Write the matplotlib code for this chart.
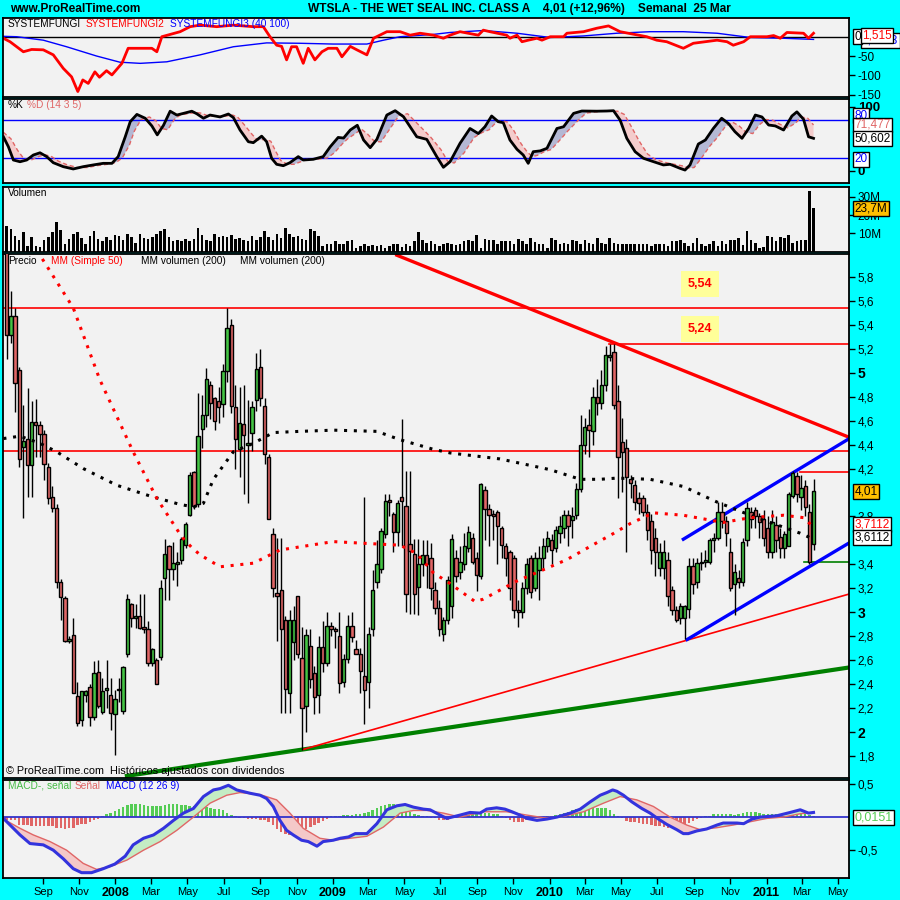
import numpy as np
import pandas as pd
import matplotlib
matplotlib.use('Agg')
import matplotlib.pyplot as plt
import matplotlib.transforms as mtransforms
from matplotlib import font_manager
from matplotlib.ticker import FuncFormatter

plt.rcParams['font.family'] = ['Liberation Sans', 'DejaVu Sans']

# ---------------- data (weekly bars, first bar week of 2007-07-02) ----------------
start = pd.Timestamp('2007-07-02')

opens = [6.30, 5.31, 5.47, 5.02, 4.38, 4.45, 4.23, 4.59, 4.56, 4.49,
         4.21, 3.96, 3.87, 3.25, 3.12, 2.76, 2.81, 2.30, 2.10, 2.31,
         2.38, 2.13, 2.50, 2.17, 2.35, 2.31, 2.15, 2.35, 2.18, 2.65,
         3.07, 2.95, 2.97, 2.88, 2.86, 2.58, 2.60, 2.63, 3.29, 3.55,
         3.36, 3.40, 3.44, 3.56, 3.81, 4.17, 3.90, 4.53, 4.65, 4.90,
         4.79, 4.76, 4.74, 5.01, 5.40, 4.71, 4.36, 4.57, 4.40, 4.50,
         4.77, 5.05, 4.72, 4.30, 3.65, 3.16, 3.19, 2.94, 2.33, 2.75,
         3.14, 2.62, 2.22, 2.72, 2.49, 2.31, 2.71, 2.58, 2.89, 2.86,
         2.80, 2.42, 2.61, 2.89, 2.69, 2.65, 2.47, 2.42, 2.86, 3.25,
         3.36, 3.65, 3.94, 3.82, 3.67, 3.96, 3.89, 3.57, 3.49, 3.21,
         3.40, 3.48, 3.45, 3.19, 3.04, 2.82, 2.94,
         3.05, 3.45, 3.34, 3.40, 3.54, 3.62, 3.45, 3.30, 4.02, 3.86,
         3.82, 3.84, 3.70, 3.55, 3.50, 3.45, 3.02, 3.00, 3.20, 3.45,
         3.20, 3.35, 3.45, 3.55, 3.60, 3.54, 3.66, 3.70, 3.81, 3.77,
         3.81, 4.03, 4.40, 4.56, 4.51, 4.80, 4.75, 4.90, 5.13, 5.17,
         4.76, 4.42, 4.37, 4.11, 4.06, 3.95, 3.95, 3.84, 3.76, 3.62,
         3.37, 3.37, 3.44, 3.19, 3.02, 2.95, 2.95, 3.03, 3.39, 3.25,
         3.41, 3.42, 3.42, 3.60, 3.62, 3.84, 3.76, 3.50, 3.24, 3.29,
         3.25, 3.60, 3.84, 3.85, 3.80, 3.78, 3.70, 3.50, 3.73, 3.63,
         3.54, 3.55, 3.97, 4.14, 3.96, 4.05, 3.84, 3.57]
highs = [6.50, 5.68, 5.54, 5.05, 4.73, 4.87, 4.76, 4.78, 4.60, 4.52,
         4.25, 4.05, 3.90, 3.28, 3.14, 2.80, 2.95, 2.42, 2.34, 2.35,
         2.40, 2.59, 2.60, 2.45, 2.60, 2.45, 2.35, 2.45, 2.55, 3.15,
         3.08, 3.07, 3.15, 3.15, 2.93, 2.70, 2.62, 3.27, 3.61, 3.56,
         3.59, 3.50, 3.63, 3.75, 4.17, 4.18, 4.83, 4.81, 5.04, 4.93,
         4.80, 4.88, 5.07, 5.54, 5.45, 4.90, 4.88, 4.90, 4.77, 4.76,
         5.16, 5.20, 4.79, 4.32, 3.70, 3.62, 3.62, 2.97, 3.02, 3.05,
         3.14, 2.88, 2.86, 2.86, 2.55, 2.80, 2.93, 3.00, 2.92, 2.88,
         3.00, 2.65, 2.98, 3.00, 2.77, 2.70, 3.96, 2.88, 3.35, 3.60,
         3.70, 3.99, 3.99, 3.84, 3.94, 4.61, 4.18, 4.18, 3.61, 3.61,
         3.60, 3.60, 3.58, 3.25, 3.10, 2.96, 3.30,
         3.65, 3.52, 3.55, 3.66, 3.72, 3.66, 3.50, 4.08, 4.05, 3.90,
         3.85, 3.85, 3.72, 3.58, 3.52, 3.48, 3.10, 3.25, 3.45, 3.48,
         3.50, 3.55, 3.62, 3.68, 3.65, 3.72, 3.80, 3.85, 3.85, 3.88,
         4.08, 4.65, 4.62, 4.70, 4.88, 4.95, 5.02, 5.22, 5.24, 5.24,
         4.90, 4.62, 4.45, 4.15, 4.10, 4.00, 3.98, 3.90, 3.82, 3.70,
         3.58, 3.60, 3.50, 3.22, 3.05, 3.08, 3.06, 3.45, 3.45, 3.45,
         3.50, 3.52, 3.62, 3.66, 3.92, 3.92, 3.80, 3.62, 3.40, 3.35,
         3.62, 3.92, 3.88, 3.88, 3.83, 3.85, 3.80, 3.85, 3.80, 3.70,
         3.68, 4.00, 4.18, 4.17, 4.15, 4.10, 3.90, 4.11]
lows = [5.11, 5.25, 4.67, 4.21, 3.79, 3.96, 3.96, 4.30, 4.30, 4.10,
        3.90, 3.84, 3.20, 2.94, 2.75, 2.74, 2.33, 2.05, 2.05, 2.25,
        2.05, 2.10, 2.20, 2.15, 2.20, 2.02, 1.81, 2.25, 2.15, 2.63,
        2.88, 2.87, 2.86, 2.83, 2.55, 2.55, 2.40, 2.60, 3.10, 3.10,
        3.27, 3.22, 3.40, 3.54, 3.80, 3.86, 3.88, 4.37, 4.55, 4.61,
        4.52, 4.58, 4.63, 4.92, 4.66, 4.20, 4.13, 3.99, 3.91, 4.35,
        4.68, 4.72, 4.24, 3.78, 3.13, 2.76, 2.16, 2.16, 2.16, 2.60,
        2.62, 1.85, 2.00, 2.37, 2.15, 2.16, 2.50, 2.55, 2.80, 2.70,
        2.33, 2.38, 2.58, 2.75, 2.65, 2.33, 2.07, 2.20, 2.80, 3.20,
        3.33, 3.62, 3.80, 3.50, 3.55, 3.55, 3.00, 2.99, 2.99, 2.98,
        3.30, 3.20, 3.10, 2.99, 2.80, 2.76, 2.90,
        2.95, 3.25, 3.28, 3.35, 3.50, 3.40, 3.18, 3.28, 3.60, 3.55,
        3.60, 3.40, 3.45, 3.30, 3.10, 2.95, 2.88, 2.95, 3.15, 3.12,
        3.18, 3.10, 3.35, 3.50, 3.40, 3.50, 3.58, 3.62, 3.55, 3.62,
        3.78, 4.00, 4.32, 4.30, 4.40, 4.65, 4.70, 4.85, 5.10, 4.70,
        3.95, 4.00, 3.50, 3.95, 3.85, 3.82, 3.80, 3.60, 3.40, 3.30,
        3.30, 3.28, 3.05, 2.98, 2.92, 2.90, 2.78, 2.95, 3.15, 3.20,
        3.35, 3.38, 3.40, 3.50, 3.60, 3.70, 3.55, 3.18, 2.98, 3.20,
        3.22, 3.55, 3.70, 3.70, 3.62, 3.55, 3.45, 3.45, 3.50, 3.45,
        3.45, 3.55, 3.95, 3.92, 3.85, 3.80, 3.40, 3.52]
closes = [5.31, 5.47, 4.91, 4.28, 4.43, 4.23, 4.59, 4.56, 4.49, 4.24,
          3.95, 3.87, 3.25, 3.13, 2.76, 2.78, 2.33, 2.08, 2.34, 2.34,
          2.13, 2.49, 2.22, 2.34, 2.37, 2.16, 2.28, 2.36, 2.54, 3.11,
          2.95, 2.97, 2.87, 2.86, 2.58, 2.69, 2.40, 3.20, 3.49, 3.36,
          3.41, 3.42, 3.61, 3.74, 4.15, 3.89, 4.47, 4.65, 4.95, 4.75,
          4.60, 4.71, 5.01, 5.37, 4.72, 4.45, 4.58, 4.48, 4.41, 4.71,
          5.03, 4.79, 4.32, 3.78, 3.20, 3.14, 2.86, 2.36, 2.94, 2.94,
          2.65, 2.20, 2.81, 2.44, 2.29, 2.71, 2.58, 2.89, 2.86, 2.84,
          2.41, 2.61, 2.89, 2.79, 2.65, 2.51, 2.35, 2.82, 3.19, 3.40,
          3.68, 3.93, 3.92, 3.67, 3.91, 3.93, 3.15, 3.51, 3.15, 3.40,
          3.48, 3.40, 3.20, 3.04, 2.86, 2.94, 3.27,
          3.61, 3.30, 3.42, 3.55, 3.67, 3.42, 3.31, 4.07, 3.86, 3.81,
          3.80, 3.72, 3.56, 3.45, 3.20, 3.02, 3.00, 3.20, 3.40, 3.17,
          3.45, 3.45, 3.55, 3.62, 3.52, 3.69, 3.72, 3.81, 3.72, 3.80,
          4.03, 4.40, 4.55, 4.52, 4.80, 4.75, 4.90, 5.15, 5.15, 4.73,
          4.30, 4.34, 4.13, 4.08, 3.92, 3.91, 3.84, 3.69, 3.52, 3.50,
          3.50, 3.50, 3.14, 3.02, 2.94, 3.05, 3.05, 3.39, 3.24, 3.41,
          3.42, 3.44, 3.60, 3.62, 3.84, 3.76, 3.66, 3.20, 3.34, 3.25,
          3.59, 3.87, 3.78, 3.80, 3.75, 3.62, 3.50, 3.75, 3.60, 3.54,
          3.65, 3.99, 4.16, 3.99, 4.04, 3.88, 3.42, 4.01]

# volume in millions
volume = [14.3, 12.4, 8.7, 6.3, 10.6, 3.1, 8.1, 3.1, 2.6, 6.3,
          7.8, 10.9, 16.1, 11.9, 4.1, 6.9, 9.6, 10.9, 7.4, 4.1,
          8.7, 11.5, 6.9, 5.9, 7.8, 6.3, 9.1, 8.7, 6.3, 9.6,
          7.8, 5.0, 9.6, 7.4, 6.9, 7.8, 9.6, 11.5, 12.4, 7.8,
          5.9, 6.3, 5.9, 7.2, 5.9, 6.9, 13.0, 9.1, 6.3, 5.6,
          9.6, 7.8, 8.7, 8.3, 9.1, 7.2, 7.4, 6.3, 5.9, 8.7,
          6.3, 8.1, 11.5, 7.8, 6.3, 9.6, 7.4, 13.0, 9.6, 7.8,
          8.7, 6.9, 6.3, 12.4, 11.5, 8.7, 3.1, 4.1, 4.4, 5.6,
          4.1, 4.4, 5.9, 6.3, 2.2, 3.1, 4.1, 3.1, 3.5, 3.1,
          3.7, 2.2, 3.1, 4.4, 4.1, 2.8, 4.1, 3.1, 5.9, 10.9,
          6.3, 5.0, 5.6, 4.4, 3.1, 4.1, 5.0,
          4.4, 3.5, 4.4, 5.9, 6.3, 5.6, 9.1, 2.2, 7.2, 6.3,
          6.3, 4.4, 5.9, 5.9, 5.9, 4.4, 6.9, 5.6, 4.1, 7.4,
          5.4, 4.1, 4.1, 2.2, 7.4, 6.3, 4.4, 5.0, 4.1, 6.3,
          5.6, 4.4, 6.3, 5.0, 4.1, 7.4, 5.0, 4.4, 7.4, 5.0,
          4.1, 4.1, 4.4, 4.4, 4.1, 4.1, 4.4, 4.1, 3.1, 4.1,
          4.1, 4.1, 3.1, 5.9, 5.6, 6.3, 5.0, 3.1, 5.0, 7.4,
          4.1, 3.1, 4.1, 5.6, 3.1, 5.9, 4.1, 6.3, 6.3, 7.4,
          3.7, 11.5, 6.3, 5.0, 2.2, 2.6, 8.7, 7.8, 5.6, 7.8,
          7.4, 9.3, 5.0, 5.9, 6.3, 6.3, 33.3, 23.7]

# MACD histogram, one per week
macd_hist = [-0.05, -0.05, -0.05, -0.12, -0.12, -0.12, -0.13, -0.13, -0.13, -0.13,
             -0.13, -0.13, -0.17, -0.17, -0.18, -0.17, -0.17, -0.12, -0.11, -0.10,
             -0.07, -0.05, -0.03, 0.02, 0.04, 0.06, 0.09, 0.12, 0.15, 0.18,
             0.19, 0.19, 0.19, 0.18, 0.17, 0.16, 0.16, 0.17, 0.18, 0.19,
             0.20, 0.19, 0.18, 0.18, 0.17, 0.17, 0.17, 0.16, 0.15, 0.13,
             0.12, 0.12, 0.10, 0.06, 0.03, 0.02, -0.01, -0.02, -0.03, -0.03,
             -0.03, -0.04, -0.05, -0.07, -0.12, -0.18, -0.22, -0.25, -0.27, -0.25,
             -0.23, -0.20, -0.18, -0.15, -0.12, -0.09, -0.06, -0.03, 0.01, 0.02,
             0.02, 0.03, 0.03, 0.03, 0.04, 0.05, 0.06, 0.08, 0.10, 0.13,
             0.16, 0.18, 0.19, 0.19, 0.17, 0.14, 0.11, 0.08, 0.05, 0.03,
             0.02, 0.01, -0.01, -0.02, -0.04, -0.05, -0.04,
             -0.02, 0.00, 0.03, 0.04, 0.05, 0.04, 0.05, 0.06, 0.06, 0.06,
             0.05, 0.04, 0.02, -0.02, -0.05, -0.07, -0.08, -0.07, -0.05, -0.03,
             -0.02, -0.01, 0.00, 0.01, 0.02, 0.03, 0.04, 0.06, 0.08, 0.10,
             0.12, 0.13, 0.13, 0.13, 0.13, 0.13, 0.13, 0.13, 0.10, 0.05,
             0.02, -0.02, -0.06, -0.07, -0.08, -0.09, -0.10, -0.11, -0.12, -0.13,
             -0.14, -0.15, -0.16, -0.16, -0.17, -0.15, -0.12, -0.09, -0.06, -0.03,
             -0.01, 0.01, 0.02, 0.04, 0.04, 0.05, 0.04, 0.04, 0.03, 0.05,
             0.06, 0.07, 0.08, 0.07, 0.06, 0.05, 0.04, 0.04, 0.04, 0.03,
             0.04, 0.05, 0.05, 0.05, 0.05, 0.04, 0.03, 0.02]

# indicator lines read at turning points: (week index, value)
ma50_x = [5.0, 8.0, 16.0, 22.4, 30.4, 36.1, 42.1, 44.5, 46.5, 51.3, 59.3, 65.7, 78.5, 94.6, 98.6,
          102.6, 106.6, 112.6, 114.6, 122.6, 130.7, 134.7, 140.3, 146.0, 149.9, 155.5, 162.7,
          172.3, 178.8, 186.8, 191.6, 194.0]
ma50_y = [6.25, 5.98, 5.54, 4.94, 4.34, 3.95, 3.63, 3.54, 3.48, 3.38, 3.41, 3.52, 3.59, 3.56, 3.49,
          3.33, 3.24, 3.09, 3.11, 3.26, 3.38, 3.44, 3.55, 3.66, 3.74, 3.83, 3.81,
          3.75, 3.79, 3.81, 3.79, 3.71]
ma200_x = [-0.8, 3.2, 8.0, 12.0, 18.4, 26.5, 34.5, 41.7, 44.9, 47.3, 49.7, 54.5, 59.3, 64.1, 70.5,
           78.6, 89.0, 94.6, 102.6, 106.6, 118.6, 130.7, 137.9, 142.7, 146.7, 154.7, 162.7,
           170.8, 178.8, 185.2, 190.8, 194.0]
ma200_y = [4.45, 4.47, 4.41, 4.34, 4.20, 4.06, 3.97, 3.90, 3.88, 3.91, 4.11, 4.34, 4.41, 4.50, 4.51,
           4.52, 4.51, 4.44, 4.36, 4.33, 4.28, 4.19, 4.11, 4.11, 4.12, 4.11, 4.05,
           3.92, 3.81, 3.73, 3.66, 3.61]

sf2_x = [-0.8, 0.8, 4.0, 6.0, 8.8, 11.2, 13.6, 15.6, 17.1, 18.3, 19.6, 21.2, 22.3, 24.0, 25.3,
         27.7, 29.2, 32.1, 34.9, 36.1, 37.3, 41.7, 44.1, 46.5, 50.5, 54.5, 59.3, 61.7, 63.3,
         64.9, 66.1, 67.3, 68.5, 69.7, 71.3, 72.5, 74.1, 75.8, 77.3, 79.4, 80.6, 82.6, 84.2,
         86.6, 88.2, 91.4, 94.6, 97.0, 99.4, 102.6, 105.0, 106.6, 109.0, 113.4, 114.6, 116.2,
         120.2, 121.0, 122.7, 123.9, 125.4, 127.5, 128.7, 130.7, 133.9, 134.7, 138.7, 141.9,
         144.7, 147.5, 153.9, 156.3, 158.7, 162.7, 165.1, 170.8, 173.2, 174.7, 177.2, 178.8,
         182.8, 184.4, 186.0, 187.6, 191.6, 192.8, 194.0]
sf2_y = [-4, -13, -39, -33, -34, -47, -82, -104, -142, -112, -121, -91, -105, -88, -99,
         -69, -30, -30, -30, -39, 0, 13, 26, 30, 26, 30, 26, 26, 0,
         -22, -25, -60, -26, -26, -69, -30, -60, -39, -30, -30, -52, -25, -34,
         -47, -4, 13, 13, 4, 9, 4, -4, 4, 13, 4, 17, 13,
         4, -4, 4, -13, -9, -4, -9, 0, 0, 9, 13, 22,
         28, 13, 0, -9, -13, -30, -17, -9, -13, -22, -13, 0,
         0, 3, -4, 11, 9, -4, 9]
sf3_x = [-0.8, 2.4, 8.8, 14.4, 21.6, 27.2, 32.1, 38.5, 46.5, 54.5, 62.5, 70.5, 78.5, 86.6, 90.6,
         94.6, 102.6, 106.6, 114.6, 122.7, 130.7, 138.7, 146.7, 154.7, 162.7, 170.8, 178.8,
         186.8, 194.0]
sf3_y = [1, 0, -9, -26, -50, -66, -69, -65, -47, -26, -16, -17, -19, -19, -9,
         0, 6, 11, 16, 9, -2, 2, 9, 13, 13, 9, -2, -4, -7]

k_x = [-0.8, 0.4, 1.6, 3.2, 4.8, 6.4, 8.0, 9.6, 11.2, 13.6, 16.0, 18.4, 20.8, 23.2, 25.3, 26.8,
       28.5, 29.7, 31.3, 33.3, 34.9, 36.2, 37.7, 39.3, 40.9, 42.5, 44.5, 45.7, 47.3, 48.9,
       51.3, 53.3, 54.5, 56.1, 58.1, 59.3, 61.3, 62.5, 63.7, 64.9, 66.5, 68.1, 70.1, 71.3,
       73.7, 76.1, 77.8, 79.7, 81.0, 82.6, 84.3, 85.8, 87.4, 89.0, 91.4, 93.4, 95.4, 98.6,
       101.0, 103.4, 105.0, 106.6, 109.0, 111.4, 113.4, 115.0, 116.6, 118.2, 119.4, 121.0,
       122.7, 124.2, 125.4, 126.6, 128.3, 129.9, 132.3, 133.9, 136.3, 138.3, 141.9, 144.3,
       145.9, 147.5, 149.1, 151.1, 153.1, 155.1, 157.9, 159.5, 161.9, 163.1, 164.3, 166.3,
       168.0, 169.9, 171.9, 173.5, 175.1, 176.8, 178.4, 180.0, 181.6, 183.2, 184.8, 186.8,
       188.8, 190.0, 191.6, 192.8, 194.0]
k_y = [53, 37.5, 16.7, 14, 16.7, 24.5, 28, 22, 12.5, 6.3, 2.7, 6.3, 9, 11.5, 11.5, 22,
       53, 76.6, 88, 82, 70, 56, 71, 93, 87, 89.6, 93, 89, 82, 87,
       84, 88.6, 83, 63.6, 45.3, 43.8, 54, 45.3, 19.4, 10, 7.8, 12.5, 22, 16.7,
       17.8, 22, 37.5, 52, 51, 63.6, 71, 48, 36, 49, 87, 93.8, 84.4, 53,
       49, 22, 5.3, 14, 42.8, 66, 58, 68.8, 85.5, 76.6, 75, 48,
       33.4, 24.5, 11.5, 29.7, 31, 35, 66, 68.7, 89.6, 93.3, 93, 93.3,
       93.8, 79, 50.6, 29.7, 19.4, 15, 9, 10, 3.7, 1, 9, 41.7,
       48, 66, 82, 74, 61, 50.6, 66, 87, 84, 71.4, 70, 63.6,
       85.5, 92, 80.3, 53, 50.6]
d_x = [-0.8, 1.0, 2.6, 4.2, 6.0, 7.6, 9.2, 10.8, 12.4, 14.6, 17.0, 19.4, 21.8, 24.2, 26.3, 27.8,
       29.5, 30.7, 32.3, 34.3, 35.9, 37.2, 38.7, 40.3, 41.9, 43.5, 45.5, 46.7, 48.3, 49.9,
       52.3, 54.3, 55.5, 57.1, 59.1, 60.3, 62.3, 63.5, 64.7, 65.9, 67.5, 69.1, 71.1, 72.3,
       74.7, 77.1, 78.8, 80.7, 82.0, 83.6, 85.3, 86.8, 88.4, 90.0, 92.4, 94.4, 96.4, 99.6,
       102.0, 104.4, 106.0, 107.6, 110.0, 112.4, 114.4, 116.0, 117.6, 119.2, 120.4, 122.0,
       123.7, 125.2, 126.4, 127.6, 129.3, 130.9, 133.3, 134.9, 137.3, 139.3, 142.9, 145.3,
       146.9, 148.5, 150.1, 152.1, 154.1, 156.1, 158.9, 160.5, 162.9, 164.1, 165.3, 167.3,
       169.0, 170.9, 172.9, 174.5, 176.1, 177.8, 179.4, 181.0, 182.6, 184.2, 185.8, 187.8,
       189.8, 191.0, 192.6, 194.0]
d_y = [60, 50, 32, 18, 17, 22, 25, 22, 15, 9, 5, 5, 8, 10, 13, 20,
       40, 62, 80, 84, 78, 66, 64, 80, 88, 89, 91, 90, 86, 85,
       85, 87, 84, 72, 56, 48, 49, 46, 30, 16, 10, 10, 15, 18,
       18, 20, 28, 42, 50, 57, 65, 57, 46, 45, 68, 87, 89, 68,
       52, 33, 15, 12, 28, 52, 60, 64, 75, 78, 76, 62,
       42, 29, 22, 24, 30, 33, 50, 62, 78, 90, 93, 93,
       93, 88, 70, 46, 26, 17, 12, 10, 7, 4, 5, 22,
       38, 52, 70, 76, 70, 60, 58, 72, 80, 79, 73, 67,
       75, 84, 82, 71.5]

macd_x = [-0.8, 0.8, 3.2, 5.6, 8.8, 11.2, 13.6, 16.0, 18.0, 20.4, 23.2, 26.0, 28.5, 30.4, 32.9,
          35.3, 37.7, 40.1, 42.5, 44.9, 47.3, 49.7, 51.3, 53.3, 55.3, 58.5, 60.9, 62.5, 64.1,
          65.7, 67.3, 68.9, 70.9, 72.5, 74.6, 76.1, 78.5, 80.2, 82.2, 83.8, 86.6, 89.0, 91.4,
          93.8, 95.8, 97.8, 100.2, 101.8, 104.2, 105.8, 109.0, 111.4, 113.8, 115.4, 117.8,
          119.8, 121.5, 123.4, 125.1, 127.5, 129.9, 132.3, 135.5, 137.9, 140.3, 142.7, 144.3,
          145.7, 146.7, 148.3, 150.3, 152.7, 154.7, 156.7, 158.7, 161.1, 162.7, 163.9, 165.9,
          168.3, 170.8, 172.3, 175.6, 177.2, 179.2, 181.2, 185.2, 188.4, 190.8, 192.0, 192.8, 194.0]
macd_y = [-0.02, -0.12, -0.27, -0.40, -0.42, -0.50, -0.63, -0.78, -0.84, -0.84, -0.78, -0.71,
          -0.59, -0.42, -0.32, -0.27, -0.17, -0.05, 0.06, 0.13, 0.31, 0.41, 0.43, 0.48, 0.41,
          0.36, 0.33, 0.28, 0.16, -0.05, -0.20, -0.27, -0.35, -0.37, -0.44, -0.37, -0.35, -0.32,
          -0.30, -0.25, -0.25, -0.10, 0.11, 0.17, 0.19, 0.15, 0.12, 0.11, 0.03, -0.02, 0.03,
          0.07, 0.06, 0.12, 0.14, 0.12, 0.08, 0.03, -0.02, -0.05, -0.03, 0.00, 0.06, 0.12,
          0.23, 0.33, 0.37, 0.41, 0.39, 0.33, 0.23, 0.13, 0.06, -0.03, -0.11, -0.19, -0.25,
          -0.25, -0.21, -0.18, -0.12, -0.09, -0.09, -0.10, -0.03, 0.00, 0.02, 0.07, 0.11, 0.08,
          0.06, 0.07]
sig_x = [-0.8, 3.2, 6.4, 10.4, 14.4, 18.4, 21.6, 24.8, 28.9, 32.9, 36.9, 40.9, 44.9, 48.9, 52.9,
         56.1, 60.9, 64.9, 68.1, 71.3, 75.3, 78.5, 82.6, 86.6, 90.6, 94.6, 97.8, 101.0, 105.0,
         109.0, 114.6, 120.2, 125.1, 129.1, 133.1, 138.7, 143.5, 147.5, 151.5, 155.5, 159.5,
         163.5, 166.7, 170.8, 174.7, 178.8, 182.8, 186.8, 190.8, 194.0]
sig_y = [-0.03, -0.17, -0.27, -0.37, -0.50, -0.70, -0.79, -0.75, -0.65, -0.50, -0.37, -0.20,
         0.00, 0.21, 0.33, 0.37, 0.34, 0.26, 0.06, -0.17, -0.32, -0.35, -0.32, -0.29, -0.15,
         0.06, 0.10, 0.10, 0.06, 0.00, 0.08, 0.08, 0.03, -0.01, 0.00, 0.08, 0.21, 0.31, 0.26,
         0.16, 0.00, -0.12, -0.19, -0.16, -0.12, -0.07, -0.02, 0.00, 0.05, 0.07]

# trend lines drawn on the price chart: (week index, price)
red_down = ([93.8, 202.6], [5.98, 4.46])
red_up = ([71.3, 202.6], [1.856, 3.153])
green_up = ([28.9, 202.6], [1.635, 2.54])
blue_low = ([163.6, 202.6], [2.773, 3.58])
blue_high = ([162.7, 202.6], [3.61, 4.45])

# ---------------- figure ----------------
W = 900.0
fig = plt.figure(figsize=(9, 9), dpi=100, facecolor='#00FFFF')
XL = (-0.82, 202.6)
PANEL_BG = '#F2F2F2'


def panel(top, bottom):
    ax = fig.add_axes([3.3 / W, 1 - bottom / W, 846 / W, (bottom - top) / W])
    ax.set_facecolor(PANEL_BG)
    ax.set_xlim(*XL)
    for s in ax.spines.values():
        s.set_color('black')
        s.set_linewidth(1.3)
    ax.yaxis.tick_right()
    ax.tick_params(axis='y', direction='out', length=4, width=1, pad=2, labelsize=8.5)
    ax.tick_params(axis='x', bottom=False, labelbottom=False)
    return ax


def ftext(x, y, s, **kw):
    fig.text(x / W, 1 - y / W, s, va='center', **kw)


def side_box(ax, y, s, fc='white', tc='black', size=8.5, weight='normal', x=1.006, z=10):
    tr = mtransforms.blended_transform_factory(ax.transAxes, ax.transData)
    ax.text(x, y, s, transform=tr, ha='left', va='center', color=tc, fontsize=size,
            fontweight=weight, clip_on=False, zorder=z,
            bbox=dict(boxstyle='square,pad=0.12', fc=fc, ec='black', lw=1))


comma = FuncFormatter(lambda v, p: ('%g' % round(v, 2)).replace('.', ','))

idx = np.arange(len(closes))
o = np.array(opens)
h = np.array(highs)
l = np.array(lows)
c = np.array(closes)

# ---- panel 1 : SystemFungi ----
ax1 = panel(18.3, 96.7)
ax1.set_ylim(-155.4, 47.7)
ax1.axhline(0, color='black', lw=1)
ax1.plot(sf3_x, sf3_y, color='#0000FF', lw=1)
ax1.plot(sf2_x, sf2_y, color='#FF0000', lw=2)
ax1.set_yticks([-50, -100, -150])
ax1.set_yticklabels(['-50', '-100', '-150'])
side_box(ax1, 0, '0')
side_box(ax1, -9, '0,0758', tc='#0000FF', x=1.015, z=9)
side_box(ax1, 4, '1,515', tc='#FF0000', x=1.015, z=11)

# ---- panel 2 : Stochastic ----
ax2 = panel(99.3, 183.3)
ax2.set_ylim(-19.7, 111.6)
ax2.axhline(80, color='#0000FF', lw=1)
ax2.axhline(20, color='#0000FF', lw=1)
xs = np.union1d(k_x, d_x)
ki = np.interp(xs, k_x, k_y)
di = np.interp(xs, d_x, d_y)
ax2.fill_between(xs, ki, di, where=ki >= di, interpolate=True, color='#B4B8D4', lw=0)
ax2.fill_between(xs, ki, di, where=ki < di, interpolate=True, color='#F4CCCC', lw=0)
ax2.plot(d_x, d_y, color='#E06666', lw=1, ls=(0, (3, 2)))
ax2.plot(k_x, k_y, color='black', lw=2)
ax2.set_yticks([100, 0])
ax2.set_yticklabels(['100', '0'], fontweight='bold', fontsize=9.5)
side_box(ax2, 86, '80', tc='#0000FF', z=9)
side_box(ax2, 71.5, '71,477', tc='#E06666')
side_box(ax2, 50.6, '50,602')
side_box(ax2, 18, '20', tc='#0000FF')

# ---- panel 3 : Volume ----
ax3 = panel(186.7, 251.7)
ax3.set_ylim(0, 35.5)
ax3.bar(idx, volume, width=0.62, color='black', lw=0)
ax3.set_yticks([30, 20, 10])
ax3.set_yticklabels(['30M', '20M', '10M'])
side_box(ax3, 23.7, '23,7M', fc='#FFC000')

# ---- panel 4 : Price ----
ax4 = panel(254.0, 777.7)
ax4.set_ylim(1.62, 5.99)
ax4.axhline(5.54, color='#FF0000', lw=1.2)
ax4.axhline(4.35, color='#FF0000', lw=1.2)
ax4.plot([144.7, XL[1]], [5.24, 5.24], color='#FF0000', lw=1.2)
ax4.plot([190.8, XL[1]], [4.17, 4.17], color='#FF0000', lw=1.2)
ax4.plot([191.8, XL[1]], [3.42, 3.42], color='#008000', lw=1.2)
ax4.plot(*green_up, color='#008000', lw=3)
ax4.plot(*red_up, color='#FF0000', lw=1.2)
ax4.plot(*red_down, color='#FF0000', lw=2.4)
ax4.plot(*blue_low, color='#0000FF', lw=2.4)
ax4.plot(*blue_high, color='#0000FF', lw=2.4)
ax4.plot(ma200_x, ma200_y, color='black', lw=2.2, ls=(0, (1, 2.2)), zorder=5)
ax4.plot(ma50_x, ma50_y, color='#FF0000', lw=2.2, ls=(0, (1, 2.2)), zorder=5)

up = c >= o
body_lo = np.minimum(o, c)
body_h = np.maximum(np.abs(c - o), 0.012)
ax4.vlines(idx, l, h, color='black', lw=1, zorder=3)
ax4.bar(idx[up], body_h[up], bottom=body_lo[up], width=0.8, color='#44C444',
        edgecolor='black', lw=1, zorder=4)
ax4.bar(idx[~up], body_h[~up], bottom=body_lo[~up], width=0.8, color='#E06666',
        edgecolor='black', lw=1, zorder=4)

# tick labels 4 and 3,6 sit under the value boxes in the reference
price_ticks = [1.8, 2.0, 2.2, 2.4, 2.6, 2.8, 3.0, 3.2, 3.4, 3.8, 4.2, 4.4, 4.6, 4.8,
               5.0, 5.2, 5.4, 5.6, 5.8]
ax4.set_yticks(price_ticks)
ax4.set_yticklabels([comma(v, None) for v in price_ticks])
for lab, v in zip(ax4.get_yticklabels(), price_ticks):
    if abs(v - round(v)) < 1e-6:
        lab.set_fontweight('bold')
        lab.set_fontsize(10)

for val, yv in [('5,54', 5.74), ('5,24', 5.365)]:
    ax4.text(166.7, yv, val, color='#FF0000', fontsize=9, fontweight='bold', ha='center',
             va='center', zorder=8,
             bbox=dict(boxstyle='square,pad=0.55', fc='#FFFF99', ec='none'))
side_box(ax4, 4.01, '4,01', fc='#FFC000')
side_box(ax4, 3.735, '3,7112', tc='#FF0000')
side_box(ax4, 3.622, '3,6112')

# ---- panel 5 : MACD ----
ax5 = panel(780.0, 878.3)
ax5.set_ylim(-0.925, 0.56)
hist = np.array(macd_hist)
ax5.bar(idx[hist >= 0], hist[hist >= 0], width=0.6, color='#55CC55', lw=0)
ax5.bar(idx[hist < 0], hist[hist < 0], width=0.6, color='#E06666', lw=0)
xs5 = np.union1d(macd_x, sig_x)
mi = np.interp(xs5, macd_x, macd_y)
si = np.interp(xs5, sig_x, sig_y)
ax5.fill_between(xs5, mi, si, where=mi >= si, interpolate=True, color='#C4ECC4', lw=0)
ax5.fill_between(xs5, mi, si, where=mi < si, interpolate=True, color='#F4C8C8', lw=0)
ax5.axhline(0, color='#3333CC', lw=1.3)
ax5.plot(sig_x, sig_y, color='#E06666', lw=1)
ax5.plot(macd_x, macd_y, color='#3333DD', lw=2.2)
ax5.set_yticks([0.5, -0.5])
ax5.set_yticklabels(['0,5', '-0,5'])
side_box(ax5, 0.0, '0,0151', tc='#55CC55', size=9)

# month axis under the MACD panel
month_starts = pd.date_range('2007-09-01', '2011-05-01', freq='2MS')
month_names = {3: 'Mar', 5: 'May', 7: 'Jul', 9: 'Sep', 11: 'Nov'}
tick_pos = (month_starts - start).days / 7.0
tick_lab = [str(d.year) if d.month == 1 else month_names[d.month] for d in month_starts]
ax5.set_xticks(tick_pos)
ax5.set_xticklabels(tick_lab)
ax5.tick_params(axis='x', bottom=True, labelbottom=True, direction='out', length=4,
                width=1, pad=2, labelsize=8)
for lab in ax5.get_xticklabels():
    if lab.get_text().isdigit():
        lab.set_fontweight('bold')
        lab.set_fontsize(9)

# ---------------- texts ----------------
installed = {f.name for f in font_manager.fontManager.ttflist}
if 'Liberation Sans Narrow' in installed:
    title_font, title_size = ['Liberation Sans Narrow', 'DejaVu Sans'], 10
else:
    title_font, title_size = ['Liberation Sans', 'DejaVu Sans'], 8.6
ftext(10, 9, 'www.ProRealTime.com', fontsize=title_size, fontweight='bold', family=title_font)
ftext(308, 9, 'WTSLA - THE WET SEAL INC. CLASS A    4,01 (+12,96%)    Semanal  25 Mar',
      fontsize=title_size, fontweight='bold', family=title_font)

fs = 7.3
ftext(7.7, 24.3, 'SYSTEMFUNGI', fontsize=fs, color='black')
ftext(86, 24.3, 'SYSTEMFUNGI2', fontsize=fs, color='#FF0000')
ftext(170, 24.3, 'SYSTEMFUNGI3 (40 100)', fontsize=fs, color='#0000FF')
ftext(7.7, 105.5, '%K', fontsize=fs, color='black')
ftext(27, 105.5, '%D (14 3 5)', fontsize=fs, color='#E06666')
ftext(7.7, 192.7, 'Volumen', fontsize=fs, color='black')
ftext(8, 260.7, 'Precio', fontsize=fs, color='black')
ftext(51, 260.7, 'MM (Simple 50)', fontsize=fs, color='#FF0000')
ftext(141, 260.7, 'MM volumen (200)', fontsize=fs, color='black')
ftext(240, 260.7, 'MM volumen (200)', fontsize=fs, color='black')
ftext(7.7, 786, 'MACD-, señal', fontsize=fs, color='#44BB44')
ftext(75, 786, 'Señal', fontsize=fs, color='#E06666')
ftext(106, 786, 'MACD (12 26 9)', fontsize=fs, color='#0000FF')
ftext(6, 771, '© ProRealTime.com  Históricos ajustados con dividendos', fontsize=7.8,
      color='black')

fig.savefig('out.png', dpi=100, facecolor=fig.get_facecolor())
